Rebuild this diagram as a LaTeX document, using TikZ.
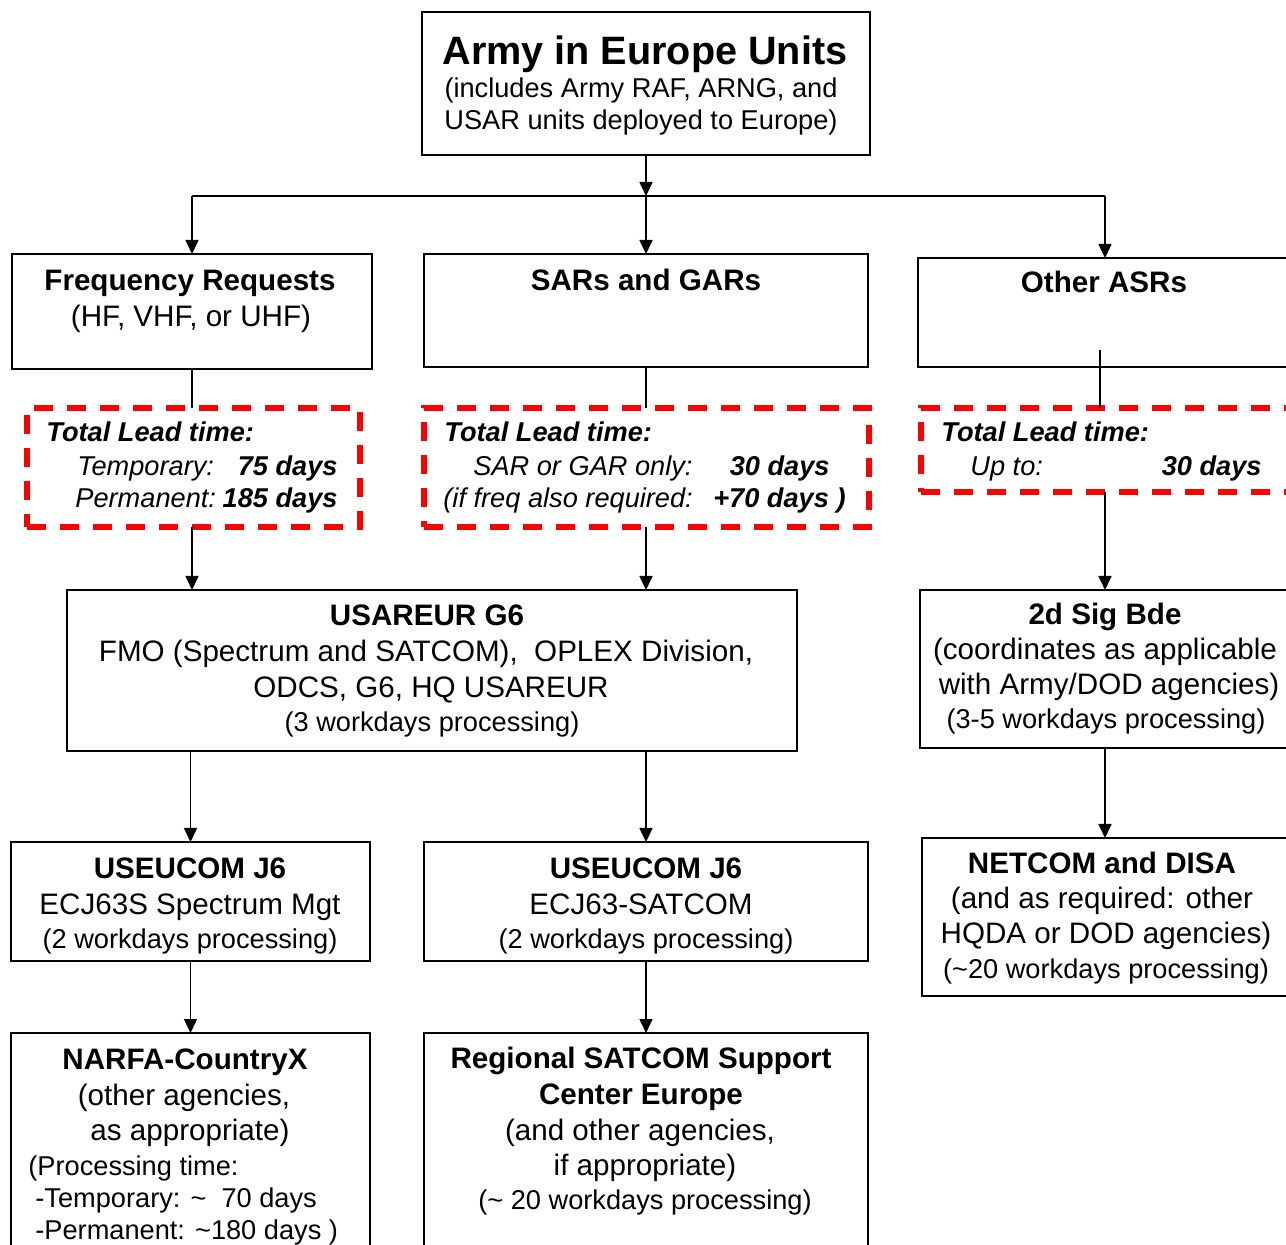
\documentclass[tikz,border=0pt]{standalone}
\usepackage{fontspec}
\setmainfont{Liberation Sans}
\usetikzlibrary{arrows.meta}
\begin{document}
\begin{tikzpicture}[x=0.5pt,y=-0.5pt,
 box/.style={draw=black,line width=0.9pt,rectangle,anchor=north west,inner sep=0pt,outer sep=0pt},
 lead/.style={draw=red,line width=2.6pt,dash pattern=on 9.5pt off 7pt,rectangle,anchor=north west,inner sep=0pt,outer sep=0pt},
 conn/.style={draw=black,line width=0.8pt},
 arr/.style={conn,-{Triangle[length=7pt,width=6.5pt]}},
 ttl/.style={font=\fontsize{19.8}{22}\selectfont\bfseries,anchor=base,inner sep=0pt},
 hd/.style={font=\fontsize{14.8}{18}\selectfont\bfseries,anchor=base,inner sep=0pt},
 tx/.style={font=\fontsize{14.8}{18}\selectfont,anchor=base,inner sep=0pt},
 sm/.style={font=\fontsize{13.6}{16}\selectfont,anchor=base,inner sep=0pt},
 smw/.style={sm,anchor=base west},
 lbl/.style={font=\fontsize{13.6}{16}\selectfont\bfseries\itshape,anchor=base west,inner sep=0pt},
 lit/.style={font=\fontsize{13.6}{16}\selectfont\itshape,anchor=base west,inner sep=0pt},
 lval/.style={font=\fontsize{13.6}{16}\selectfont\bfseries\itshape,anchor=base east,inner sep=0pt}
]
\useasboundingbox[fill=white] (0,0) rectangle (1286,1245);

% boxes
\node[box,minimum width=224pt,minimum height=71.5pt] (top) at (422,12) {};
\node[box,minimum width=180pt,minimum height=57.5pt] (freq) at (12,254) {};
\node[box,minimum width=222pt,minimum height=56.5pt] (sars) at (424,254) {};
\node[box,minimum width=186pt,minimum height=54.5pt] (other) at (918,258) {};
\node[lead,minimum width=166.5pt,minimum height=59.5pt] (d1) at (27,408) {};
\node[lead,minimum width=222.5pt,minimum height=59.5pt] (d2) at (424,408) {};
\node[lead,minimum width=190pt,minimum height=42pt] (d3) at (921,408) {};
\node[box,minimum width=365pt,minimum height=80.5pt] (usareur) at (67,590) {};
\node[box,minimum width=185pt,minimum height=79pt] (sig) at (920,590) {};
\node[box,minimum width=179.5pt,minimum height=59.5pt] (j6a) at (11,842) {};
\node[box,minimum width=222pt,minimum height=59.5pt] (j6b) at (424,842) {};
\node[box,minimum width=184pt,minimum height=79pt] (netcom) at (922,838) {};
\node[box,minimum width=179.5pt,minimum height=115pt] (narfa) at (11,1033) {};
\node[box,minimum width=222pt,minimum height=115pt] (regional) at (424,1033) {};

% texts
\node[ttl] (t1) at (645,65) {Army in Europe Units};
\node[sm] (t2) at (641,98) {(includes Army RAF, ARNG, and};
\node[sm] (t3) at (641,130) {USAR units deployed to Europe)};

\node[hd] (f1) at (190,291) {Frequency Requests};
\node[tx] (f2) at (191,327) {(HF, VHF, or UHF)};
\node[hd] (s1) at (646,291) {SARs and GARs};
\node[hd] (o1t) at (1104,293) {Other ASRs};

\node[lbl] (d1a) at (46,442) {Total Lead time:};
\node[lit] (d1b) at (77,476) {Temporary:};
\node[lval] (d1c) at (338,476) {75 days};
\node[lit] (d1d) at (75,508) {Permanent:};
\node[lval] (d1e) at (338,508) {185 days};

\node[lbl] (d2a) at (444,442) {Total Lead time:};
\node[lit] (d2b) at (473,476) {SAR or GAR only:};
\node[lval] (d2c) at (830,476) {30 days};
\node[lit] (d2d) at (443,508) {(if freq also required:};
\node[lval] (d2e) at (846,508) {+70 days )};

\node[lbl] (d3a) at (941,442) {Total Lead time:};
\node[lit] (d3b) at (970,476) {Up to:};
\node[lval] (d3c) at (1262,476) {30 days};

\node[hd] (u1) at (427,626) {USAREUR G6};
\node[tx] (u2) at (426,662) {FMO (Spectrum and SATCOM),\ \ OPLEX Division,};
\node[tx] (u3) at (431,698) {ODCS, G6, HQ USAREUR};
\node[sm] (u4) at (432,732) {(3 workdays processing)};

\node[hd] (g1) at (1105,625) {2d Sig Bde};
\node[tx] (g2) at (1105,660) {(coordinates as applicable};
\node[tx] (g3) at (1109,695) {with Army/DOD agencies)};
\node[sm] (g4) at (1106,729) {(3-5 workdays processing)};

\node[hd] (n1) at (1102,873) {NETCOM and DISA};
\node[tx] (n2) at (1102,908) {(and as required: other};
\node[tx] (n3) at (1106,943) {HQDA or DOD agencies)};
\node[sm] (n4) at (1106,978) {(\textasciitilde20 workdays processing)};

\node[hd] (ja1) at (190,878) {USEUCOM J6};
\node[tx] (ja2) at (190,914) {ECJ63S Spectrum Mgt};
\node[sm] (ja3) at (190,948) {(2 workdays processing)};

\node[hd] (jb1) at (646,878) {USEUCOM J6};
\node[tx] (jb2) at (641,914) {ECJ63-SATCOM};
\node[sm] (jb3) at (646,948) {(2 workdays processing)};

\node[hd] (na1) at (185,1069) {NARFA-CountryX};
\node[tx] (na2) at (184,1105) {(other agencies,};
\node[tx] (na3) at (190,1140) {as appropriate)};
\node[smw] (na4) at (28,1175) {(Processing time:};
\node[smw] (na5) at (35,1207) {-Temporary: \textasciitilde\ \ 70 days};
\node[smw] (na6) at (35,1239) {-Permanent: \textasciitilde180 days )};

\node[hd] (r1) at (641,1068) {Regional SATCOM Support};
\node[hd] (r2) at (641,1104) {Center Europe};
\node[tx] (r3) at (640,1140) {(and other agencies,};
\node[tx] (r4) at (645,1175) {if appropriate)};
\node[sm] (r5) at (645,1209) {(\textasciitilde\ 20 workdays processing)};

% connectors
\coordinate (hub) at (646,196);
\coordinate (hl) at (192,196);
\coordinate (hr) at (1105,196);
\coordinate (oin) at (1100,350);
\draw[arr] (top.south) -- (hub);
\draw[conn] (hl) -- (hr);
\draw[arr] (hl) -- (freq.north);
\draw[arr] (hub) -- (sars.north);
\draw[arr] (hr) -- (hr |- other.north);
\draw[conn] (freq.south) -- (freq.south |- d1.north);
\draw[conn] (sars.south) -- (sars.south |- d2.north);
\draw[conn] (oin) -- (oin |- d3.north);
\draw[arr] (freq.south |- d1.south) -- (freq.south |- usareur.north);
\draw[arr] (sars.south |- d2.south) -- (sars.south |- usareur.north);
\draw[arr] (sig.north |- d3.south) -- (sig.north);
\draw[arr] (j6a.north |- usareur.south) -- (j6a.north);
\draw[arr] (j6b.north |- usareur.south) -- (j6b.north);
\draw[arr] (sig.south) -- (sig.south |- netcom.north);
\draw[arr] (j6a.south) -- (narfa.north);
\draw[arr] (j6b.south) -- (regional.north);
\end{tikzpicture}
\end{document}
